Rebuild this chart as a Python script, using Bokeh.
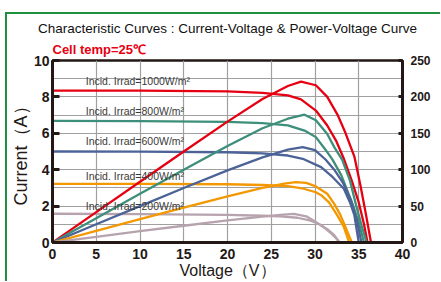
from bokeh.plotting import figure
from bokeh.models import (Range1d, LinearAxis, SingleIntervalTicker, Label,
                          FixedTicker, Title, Div)
from bokeh.layouts import row, column
from bokeh.embed import file_html
from bokeh.resources import INLINE

# ---------------- data ----------------
irradiance = ["1000", "800", "600", "400", "200"]
colors = ["#e60012", "#3d8e7a", "#4b6396", "#f39800", "#b7a3ad"]

red_iv_v = [0, 10, 20, 24, 26.9, 28.4, 30.1, 31.4, 32.4, 33.3, 34.2, 35.0, 35.6, 36.0]
red_iv_i = [8.35, 8.34, 8.30, 8.22, 8.08, 7.86, 7.25, 6.43, 5.6, 4.6, 3.4, 2.2, 1.0, 0]
red_pv_v = [0, 5, 10, 15, 20, 24, 26.9, 28.4, 30.1, 31.4, 32.6, 33.5, 34.5, 35.2, 35.8, 36.4]
red_pv_p = [0, 41.8, 83.5, 125, 166, 197, 215, 221, 216, 200, 175, 150, 118, 78, 40, 0]

teal_iv_v = [0, 10, 20, 24, 26.9, 28.8, 30.1, 31.2, 32.0, 33.0, 34.3, 35.0, 35.6]
teal_iv_i = [6.68, 6.67, 6.63, 6.56, 6.43, 6.15, 5.79, 5.1, 4.55, 3.7, 2.1, 1.1, 0]
teal_pv_v = [0, 5, 10, 15, 20, 24, 26.9, 28.8, 30.1, 31.4, 32.2, 33.1, 34.0, 34.7, 35.4, 35.9]
teal_pv_p = [0, 33.4, 66.8, 100, 132.6, 157, 170, 175.5, 168, 149, 131, 114, 85, 51, 20, 0]

blue_iv_v = [0, 10, 20, 24, 26.9, 28.6, 30.7, 32.0, 33.3, 34.0, 34.5, 35.0]
blue_iv_i = [5.0, 4.99, 4.96, 4.9, 4.78, 4.6, 4.14, 3.6, 2.95, 2.2, 1.5, 0]
blue_pv_v = [0, 5, 10, 15, 20, 24, 26.9, 28.6, 30.0, 31.2, 32.2, 33.2, 34.1, 34.8, 35.3]
blue_pv_p = [0, 25, 50, 74.8, 99, 117, 127.5, 131, 127, 114, 100, 82, 58, 30, 0]

orange_iv_v = [0, 10, 20, 24, 26.9, 28.5, 30.1, 30.7, 31.6, 32.6, 33.3, 33.9]
orange_iv_i = [3.22, 3.22, 3.2, 3.16, 3.1, 2.98, 2.76, 2.6, 2.2, 1.45, 0.85, 0]
orange_pv_v = [0, 5, 10, 15, 20, 24, 26.5, 27.8, 29.0, 30.1, 31.4, 32.2, 32.9, 33.6, 34.2]
orange_pv_p = [0, 16, 32, 48, 63.5, 75, 81, 83, 82, 77, 67, 53, 38, 18, 0]

mauve_iv_v = [0, 10, 20, 24, 26, 28, 29.5, 30.5, 31.5, 32.2, 32.8]
mauve_iv_i = [1.58, 1.56, 1.52, 1.47, 1.43, 1.36, 1.2, 1.0, 0.7, 0.4, 0]
mauve_pv_v = [0, 5, 10, 15, 20, 24, 26, 27.6, 29, 30, 31, 31.8, 32.4, 32.8]
mauve_pv_p = [0, 7.8, 15.6, 23, 30.4, 35.5, 38, 39.4, 36, 29, 21, 13, 6, 0]

x_ticks = [0, 5, 10, 15, 20, 25, 30, 35, 40]
left_ticks = [0, 2, 4, 6, 8, 10]
right_ticks = [0, 50, 100, 150, 200, 250]

iv_curves = [(red_iv_v, red_iv_i), (teal_iv_v, teal_iv_i), (blue_iv_v, blue_iv_i),
             (orange_iv_v, orange_iv_i), (mauve_iv_v, mauve_iv_i)]
pv_curves = [(red_pv_v, red_pv_p), (teal_pv_v, teal_pv_p), (blue_pv_v, blue_pv_p),
             (orange_pv_v, orange_pv_p), (mauve_pv_v, mauve_pv_p)]

# ---------------- figure ----------------
DARK = "#231815"
GREEN = "#1e9040"
p = figure(width=433, height=267, output_backend="svg", toolbar_location=None,
           x_range=Range1d(0, 40), y_range=Range1d(0, 10),
           min_border_left=43, min_border_right=38, min_border_top=46,
           min_border_bottom=39, margin=0)
p.extra_y_ranges = {"power": Range1d(0, 250)}

p.outline_line_color = DARK
p.outline_line_width = 2.5
p.background_fill_color = "white"
p.border_fill_color = "white"

p.xgrid.ticker = SingleIntervalTicker(interval=5)
p.ygrid.ticker = SingleIntervalTicker(interval=1)
for g in (p.xgrid, p.ygrid):
    g.grid_line_color = "#a0a0a0"
    g.grid_line_width = 1.2

xa = p.xaxis[0]
xa.ticker = FixedTicker(ticks=x_ticks)
xa.axis_line_color = DARK
xa.axis_line_width = 3
xa.major_tick_in = 0
xa.major_tick_out = 0
xa.minor_tick_line_color = None
xa.major_label_text_font = "Liberation Sans"
xa.major_label_text_font_style = "bold"
xa.major_label_text_font_size = "14px"
xa.major_label_text_color = DARK
xa.major_label_standoff = 6
xa.axis_label = "Voltage（V）"
xa.axis_label_text_font = "Liberation Sans"
xa.axis_label_text_font_style = "normal"
xa.axis_label_text_font_size = "16px"
xa.axis_label_text_color = DARK
xa.axis_label_standoff = 0

ya = p.yaxis[0]
ya.ticker = FixedTicker(ticks=left_ticks)
ya.axis_line_color = DARK
ya.axis_line_width = 3
ya.major_tick_in = 7
ya.major_tick_out = 0
ya.major_tick_line_width = 3
ya.major_tick_line_color = DARK
ya.minor_tick_line_color = None
ya.major_label_text_font = "Liberation Sans"
ya.major_label_text_font_style = "bold"
ya.major_label_text_font_size = "14px"
ya.major_label_text_color = DARK
ya.major_label_standoff = 3
ya.axis_label = "Current（A）"
ya.axis_label_text_font = "Liberation Sans"
ya.axis_label_text_font_style = "normal"
ya.axis_label_text_font_size = "18px"
ya.axis_label_text_color = DARK
ya.axis_label_standoff = 0

ra = LinearAxis(y_range_name="power", ticker=FixedTicker(ticks=right_ticks))
ra.axis_line_color = DARK
ra.axis_line_width = 3
ra.major_tick_in = 4
ra.major_tick_out = 0
ra.major_tick_line_width = 3
ra.major_tick_line_color = DARK
ra.minor_tick_line_color = None
ra.major_label_text_font = "Liberation Sans"
ra.major_label_text_font_style = "bold"
ra.major_label_text_font_size = "12px"
ra.major_label_text_color = DARK
ra.major_label_standoff = 8
p.add_layout(ra, "right")

# ---------------- titles (closest to the frame first) ----------------
p.add_layout(Title(text="Cell temp=25℃", align="left", standoff=8,
                   text_font="Liberation Sans", text_font_size="13px",
                   text_font_style="bold", text_color="#e60012"), "above")
p.add_layout(Title(text="Characteristic Curves : Current-Voltage & Power-Voltage Curve",
                   align="center", standoff=0,
                   text_font="Liberation Sans", text_font_size="13.5px",
                   text_font_style="normal", text_color="#111111"), "above")

# ---------------- curves ----------------
for (v, i), c in zip(iv_curves, colors):
    p.line(v, i, line_color=c, line_width=2.3, line_join="round")
for (v, w), c in zip(pv_curves, colors):
    p.line(v, w, line_color=c, line_width=2.3, line_join="round", y_range_name="power")

# ---------------- irradiance labels ----------------
irr_y = [8.9, 7.2, 5.55, 3.68, 1.98]
for txt, yy in zip(irradiance, irr_y):
    p.add_layout(Label(x=3.8, y=yy, text=f"Incid. Irrad={txt}W/m²",
                       text_font="Liberation Sans", text_font_size="10.5px",
                       text_color="#3a3a3a", text_baseline="middle"))

# ---------------- green outer frame (left and top edges) ----------------
top_bar = Div(text="", width=433, height=2, margin=(12, 0, 0, 0),
              styles={"background-color": GREEN})
left_bar = Div(text="", width=2, height=269, margin=(12, 0, 0, 5),
               styles={"background-color": GREEN})
layout = row(left_bar, column(top_bar, p, spacing=0, margin=0), spacing=0, margin=0)

open("out.html", "w").write(file_html(layout, INLINE))
